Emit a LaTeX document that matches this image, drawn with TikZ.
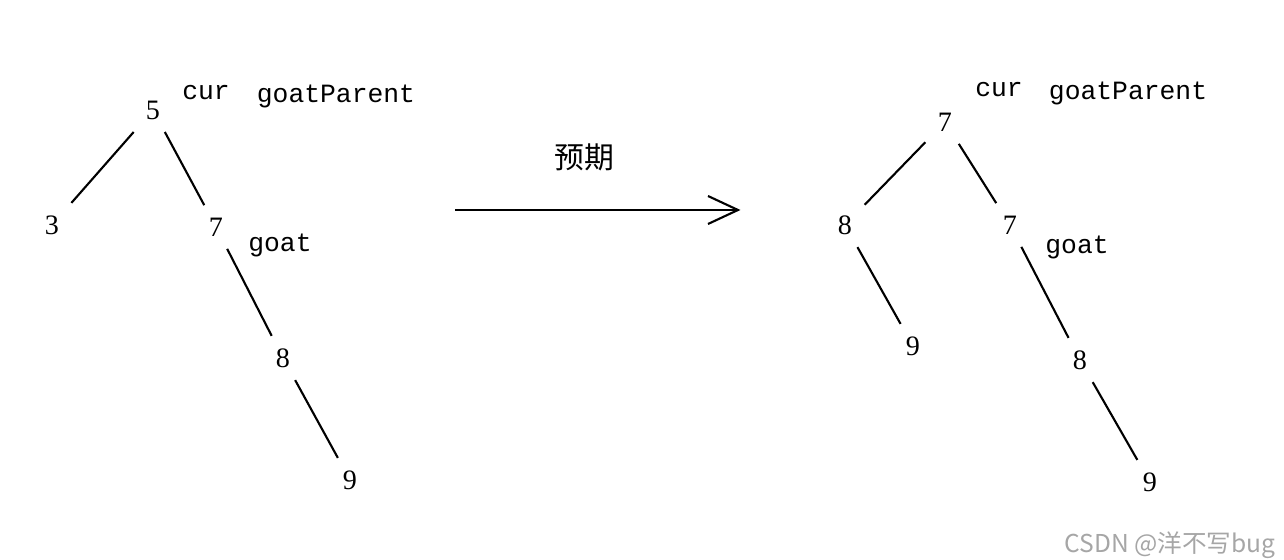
\documentclass[tikz,border=0pt]{standalone}
\usepackage{fontspec}
\setmainfont{Liberation Serif}
\newfontfamily\cjk{Noto Sans CJK SC}
\newfontfamily\lblfont{Liberation Mono}
\begin{document}
\begin{tikzpicture}[x=0.02cm,y=-0.02cm,
  num/.style={inner sep=7pt,font=\fontsize{16}{16}\selectfont},
  lbl/.style={inner sep=0pt,font=\lblfont\fontsize{15}{15}\selectfont},
  edge/.style={line width=1.2pt}]
\useasboundingbox (0,0) rectangle (1284,560);
% left tree
\node[num] (a5) at (153,110) {5};
\node[num] (a3) at (52,225) {3};
\node[num] (a7) at (216,227) {7};
\node[num] (a8) at (283,358) {8};
\node[num] (a9) at (350,480) {9};
\node[lbl] (acur) at (206,93) {cur};
\node[lbl] (agp) at (336,96) {goatParent};
\node[lbl] (agoat) at (280,245) {goat};
\draw[edge] (a5) -- (a3);
\draw[edge] (a5) -- (a7);
\draw[edge] (a7) -- (a8);
\draw[edge] (a8) -- (a9);
% arrow
\coordinate (s) at (455,210);
\coordinate (e) at (738,210);
\draw[line width=1.2pt] (s) -- (e);
\draw[line width=1.2pt] (708,196) -- (e) -- (708,224);
\node[inner sep=0pt,font=\cjk\fontsize{17}{17}\selectfont] (yq) at (584,157) {预期};
% right tree
\node[num] (b7) at (945,122) {7};
\node[num] (b8) at (845,225) {8};
\node[num] (b7b) at (1010,225) {7};
\node[num] (b9) at (913,346) {9};
\node[num] (b8b) at (1080,360) {8};
\node[num] (b9b) at (1150,482) {9};
\node[lbl] (bcur) at (999,90) {cur};
\node[lbl] (bgp) at (1128,93) {goatParent};
\node[lbl] (bgoat) at (1077,247) {goat};
\draw[edge] (b7) -- (b8);
\draw[edge] (b7) -- (b7b);
\draw[edge] (b8) -- (b9);
\draw[edge] (b7b) -- (b8b);
\draw[edge] (b8b) -- (b9b);
\node[inner sep=0pt,text=gray!70,font=\cjk\fontsize{14}{14}\selectfont] (wm) at (1170,545) {CSDN @洋不写bug};
\end{tikzpicture}
\end{document}
